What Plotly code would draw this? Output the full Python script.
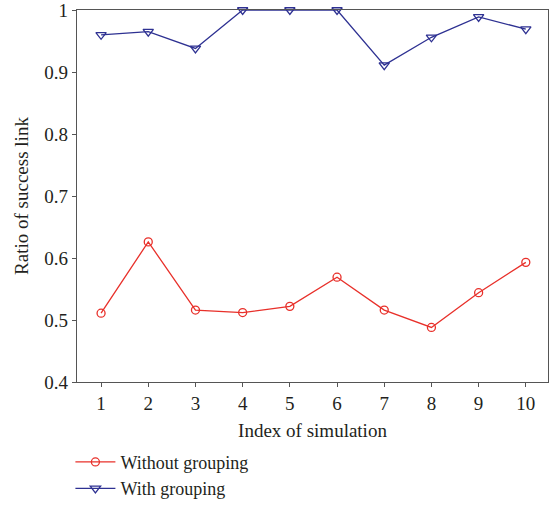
import plotly.graph_objects as go

x_index = [1, 2, 3, 4, 5, 6, 7, 8, 9, 10]
without_grouping = [0.511, 0.626, 0.516, 0.512, 0.522, 0.569, 0.516, 0.488, 0.544, 0.593]
with_grouping = [0.960, 0.965, 0.938, 1.0, 1.0, 1.0, 0.911, 0.956, 0.989, 0.969]
y_ticks = [0.4, 0.5, 0.6, 0.7, 0.8, 0.9, 1.0]
y_tick_labels = ["0.4", "0.5", "0.6", "0.7", "0.8", "0.9", "1"]

FONT = "Liberation Serif"

fig = go.Figure()
fig.add_trace(go.Scatter(
    x=x_index, y=without_grouping, name="Without grouping",
    mode="lines+markers",
    line=dict(color="#e8302a", width=1.3),
    marker=dict(symbol="circle-open", size=8, color="#e8302a", line=dict(width=1.3)),
    cliponaxis=False,
))
fig.add_trace(go.Scatter(
    x=x_index, y=with_grouping, name="With grouping",
    mode="lines+markers",
    line=dict(color="#2e3192", width=1.3),
    marker=dict(symbol="triangle-down-open", size=9, color="#2e3192", line=dict(width=1.3)),
    cliponaxis=False,
))

fig.update_layout(
    width=549, height=508,
    margin=dict(l=77, r=1, t=10, b=126),
    paper_bgcolor="white", plot_bgcolor="white",
    font=dict(family=FONT, size=19, color="#231f20"),
    showlegend=True,
    legend=dict(
        x=-0.014, y=-0.166,
        xanchor="left", yanchor="top",
        orientation="v", font=dict(family=FONT, size=18, color="#231f20"),
        bgcolor="rgba(0,0,0,0)", tracegroupgap=0, itemwidth=40,
    ),
    xaxis=dict(
        range=[0.49, 10.47], tickvals=x_index, ticktext=[str(v) for v in x_index],
        showgrid=False, zeroline=False,
        showline=True, linecolor="#555", linewidth=1.3, mirror=True,
        ticks="outside", ticklen=4, tickcolor="#555", ticklabeloverflow="allow",
        title=dict(text="Index of simulation", font=dict(family=FONT, size=19), standoff=10),
    ),
    yaxis=dict(
        range=[0.4, 1.0], tickvals=y_ticks, ticktext=y_tick_labels,
        showgrid=False, zeroline=False,
        showline=True, linecolor="#555", linewidth=1.3, mirror=True,
        ticks="outside", ticklen=4, tickcolor="#555", ticklabeloverflow="allow",
        title=dict(text="Ratio of success link", font=dict(family=FONT, size=19), standoff=10),
    ),
)

fig.write_html("out.html")
